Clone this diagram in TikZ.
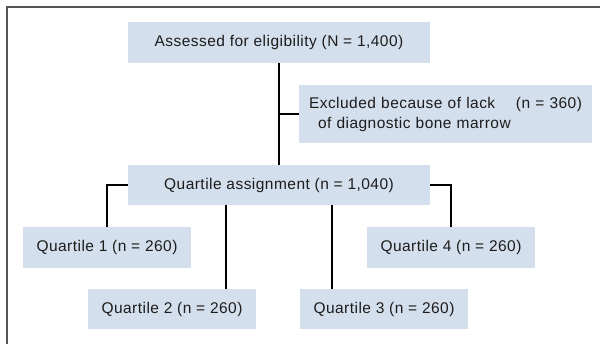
\documentclass[tikz,border=0pt]{standalone}
\usepackage{xcolor}
\usepackage{fontspec}
\setmainfont[LetterSpace=3]{Liberation Sans}
\usepackage{tikz}
\usetikzlibrary{positioning}
\usetikzlibrary{calc}
\definecolor{boxfill}{RGB}{211,223,236}
\definecolor{boxtext}{RGB}{30,28,28}
\definecolor{framegray}{RGB}{85,85,85}
\tikzset{flowbox/.style = {fill=boxfill, text=boxtext, inner sep=0pt, minimum height=41pt, font=\fontsize{15.5}{20}\selectfont}}
\tikzset{link/.style = {line width=2.4pt, black}}

\begin{document}
\begin{tikzpicture}[x=1pt,y=-1pt]
  \useasboundingbox (0,0) rectangle (600,344);
  \draw[framegray, line width=1.6pt] (7,344) -- (7,7) -- (600,7);
  \node[flowbox, minimum width=302pt] (assess) at (279,42.5) {Assessed for eligibility (N = 1,400)};
  \node[flowbox, minimum height=58pt, text width=273pt, inner xsep=10pt, align=left] (excl) at (445.5,114)
    {Excluded because of lack\hskip 0pt plus 1filll(n = 360)\hspace*{5pt}\\\hspace*{9pt}of diagnostic bone marrow};
  \node[flowbox, minimum width=302pt, minimum height=40pt] (quart) at (279,185) {Quartile assignment (n = 1,040)};
  \node[flowbox, minimum width=168pt] (q1) at (107,247.5) {Quartile 1 (n = 260)};
  \node[flowbox, minimum width=168pt] (q4) at (451,247.5) {Quartile 4 (n = 260)};
  \node[flowbox, minimum width=168pt, minimum height=40pt] (q2) at (172,309) {Quartile 2 (n = 260)};
  \node[flowbox, minimum width=168pt, minimum height=40pt] (q3) at (384,309) {Quartile 3 (n = 260)};
  \draw[link] (assess.south) -- (quart.north);
  \draw[link] (assess.south |- excl.west) -- (excl.west);
  \draw[link] (quart.west) -| (q1.north);
  \draw[link] (quart.east) -| (q4.north);
  \draw[link] ([xshift=54pt]q2.north) -- ([xshift=54pt]q2.north |- quart.south);
  \draw[link] ([xshift=-52pt]q3.north) -- ([xshift=-52pt]q3.north |- quart.south);
\end{tikzpicture}
\end{document}
